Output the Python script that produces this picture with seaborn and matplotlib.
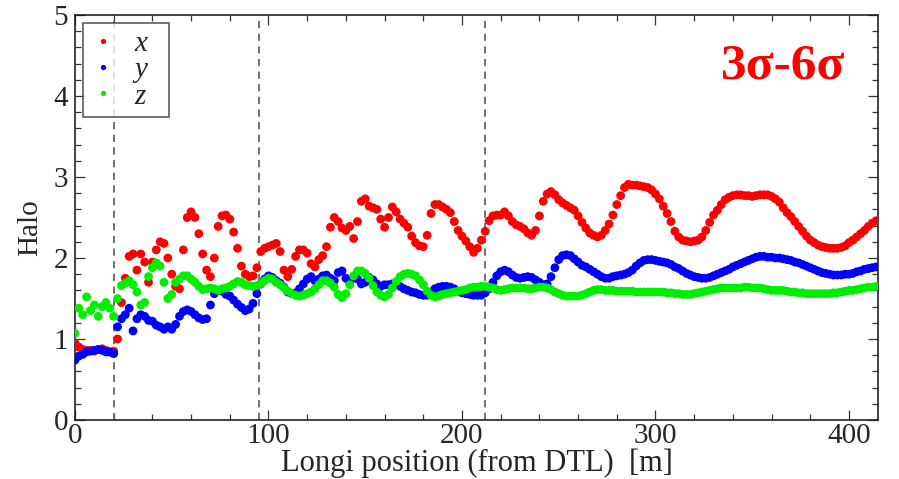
import numpy as np
import pandas as pd
import matplotlib
matplotlib.use("Agg")
import matplotlib.pyplot as plt
from matplotlib.ticker import MultipleLocator
import seaborn as sns

# Longitudinal positions [m] (sampled every 2 m)
positions = list(range(0, 416, 2))

halo_x = [0.95, 0.90, 0.87, 0.86, 0.86, 0.85, 0.87, 0.88, 0.86, 0.84,
          0.85, 1.00, 1.45, 1.75, 2.02, 2.05, 1.85, 2.05, 1.95, 1.70,
          1.95, 2.10, 2.20, 2.18, 2.00, 1.80, 1.65, 1.62, 2.10, 2.50,
          2.57, 2.50, 2.30, 2.05, 1.85, 1.77, 2.00, 2.39, 2.52, 2.53,
          2.48, 2.32, 2.12, 1.90, 1.80, 1.77, 1.78, 1.88, 2.08, 2.12,
          2.14, 2.16, 2.18, 2.08, 1.85, 1.77, 1.86, 2.02, 2.10, 2.10,
          2.06, 1.93, 1.89, 1.98, 2.03, 2.14, 2.38, 2.50, 2.45, 2.37,
          2.34, 2.39, 2.24, 2.45, 2.70, 2.73, 2.64, 2.62, 2.60, 2.48,
          2.38, 2.50, 2.63, 2.57, 2.48, 2.43, 2.38, 2.27, 2.19, 2.15,
          2.14, 2.28, 2.55, 2.66, 2.66, 2.63, 2.60, 2.56, 2.45, 2.34,
          2.27, 2.21, 2.14, 2.07, 2.12, 2.22, 2.33, 2.46, 2.52, 2.53,
          2.53, 2.57, 2.52, 2.45, 2.41, 2.39, 2.36, 2.31, 2.28, 2.34,
          2.52, 2.70, 2.79, 2.82, 2.78, 2.72, 2.68, 2.65, 2.62, 2.59,
          2.52, 2.44, 2.37, 2.31, 2.28, 2.26, 2.28, 2.34, 2.42, 2.53,
          2.66, 2.77, 2.87, 2.91, 2.90, 2.90, 2.89, 2.88, 2.87, 2.84,
          2.79, 2.73, 2.64, 2.55, 2.45, 2.33, 2.26, 2.22, 2.21, 2.20,
          2.21, 2.22, 2.26, 2.34, 2.44, 2.53, 2.59, 2.66, 2.72, 2.75,
          2.77, 2.78, 2.78, 2.77, 2.77, 2.76, 2.77, 2.78, 2.78, 2.78,
          2.76, 2.73, 2.69, 2.62, 2.56, 2.51, 2.45, 2.39, 2.33, 2.27,
          2.22, 2.19, 2.16, 2.14, 2.13, 2.12, 2.12, 2.12, 2.13, 2.15,
          2.19, 2.22, 2.26, 2.30, 2.34, 2.39, 2.43, 2.46]

halo_y = [0.74, 0.79, 0.81, 0.84, 0.85, 0.86, 0.87, 0.86, 0.84, 0.84,
          0.82, 1.15, 1.25, 1.30, 1.38, 1.10, 1.25, 1.30, 1.28, 1.23,
          1.22, 1.17, 1.15, 1.12, 1.15, 1.12, 1.18, 1.28, 1.34, 1.36,
          1.34, 1.30, 1.26, 1.24, 1.25, 1.42, 1.56, 1.60, 1.59, 1.55,
          1.53, 1.48, 1.43, 1.39, 1.35, 1.37, 1.44, 1.56, 1.68, 1.74,
          1.78, 1.76, 1.72, 1.69, 1.64, 1.58, 1.56, 1.57, 1.62, 1.68,
          1.74, 1.77, 1.72, 1.74, 1.78, 1.79, 1.75, 1.72, 1.82, 1.84,
          1.75, 1.70, 1.76, 1.74, 1.68, 1.70, 1.76, 1.73, 1.68, 1.65,
          1.67, 1.67, 1.68, 1.68, 1.65, 1.62, 1.60, 1.58, 1.57, 1.55,
          1.54, 1.54, 1.58, 1.62, 1.64, 1.65, 1.65, 1.64, 1.62, 1.59,
          1.57, 1.56, 1.55, 1.54, 1.54, 1.54, 1.57, 1.62, 1.70, 1.78,
          1.83, 1.85, 1.83, 1.79, 1.76, 1.75, 1.76, 1.77, 1.76, 1.73,
          1.70, 1.67, 1.68, 1.77, 1.88, 1.98, 2.03, 2.04, 2.03, 1.99,
          1.95, 1.91, 1.89, 1.86, 1.83, 1.80, 1.77, 1.75, 1.75, 1.77,
          1.78, 1.79, 1.80, 1.82, 1.85, 1.90, 1.94, 1.97, 1.98, 1.98,
          1.97, 1.96, 1.95, 1.94, 1.92, 1.89, 1.87, 1.84, 1.81, 1.79,
          1.77, 1.76, 1.75, 1.75, 1.76, 1.78, 1.80, 1.82, 1.84, 1.86,
          1.89, 1.91, 1.93, 1.95, 1.97, 1.99, 2.01, 2.02, 2.02, 2.01,
          2.01, 2.00, 2.00, 1.99, 1.98, 1.97, 1.95, 1.94, 1.92, 1.90,
          1.88, 1.86, 1.84, 1.82, 1.81, 1.80, 1.79, 1.79, 1.79, 1.80,
          1.80, 1.81, 1.83, 1.84, 1.86, 1.87, 1.88, 1.89]

halo_z = [1.07, 1.38, 1.30, 1.52, 1.35, 1.42, 1.28, 1.40, 1.45, 1.38,
          1.28, 1.50, 1.66, 1.69, 1.72, 1.67, 1.58, 1.42, 1.45, 1.77,
          1.88, 1.94, 1.90, 1.70, 1.50, 1.55, 1.70, 1.74, 1.78, 1.78,
          1.74, 1.70, 1.65, 1.61, 1.62, 1.63, 1.62, 1.60, 1.62, 1.63,
          1.65, 1.68, 1.71, 1.70, 1.67, 1.66, 1.65, 1.66, 1.68, 1.72,
          1.75, 1.74, 1.70, 1.67, 1.63, 1.59, 1.56, 1.54, 1.53, 1.54,
          1.56, 1.58, 1.62, 1.67, 1.72, 1.72, 1.69, 1.64, 1.55, 1.51,
          1.56, 1.67, 1.78, 1.84, 1.84, 1.81, 1.75, 1.66, 1.58, 1.54,
          1.52, 1.55, 1.63, 1.71, 1.77, 1.80, 1.81, 1.80, 1.78, 1.73,
          1.67, 1.59, 1.54, 1.52, 1.53, 1.55, 1.56, 1.57, 1.58, 1.59,
          1.60, 1.61, 1.63, 1.64, 1.64, 1.65, 1.65, 1.64, 1.63, 1.61,
          1.60, 1.61, 1.62, 1.63, 1.63, 1.63, 1.63, 1.62, 1.62, 1.63,
          1.64, 1.64, 1.63, 1.61, 1.58, 1.56, 1.54, 1.53, 1.53, 1.53,
          1.53, 1.54, 1.56, 1.58, 1.60, 1.61, 1.61, 1.60, 1.60, 1.60,
          1.59, 1.59, 1.59, 1.59, 1.59, 1.58, 1.58, 1.58, 1.58, 1.58,
          1.58, 1.58, 1.58, 1.57, 1.57, 1.56, 1.56, 1.55, 1.55, 1.55,
          1.56, 1.57, 1.58, 1.59, 1.60, 1.61, 1.62, 1.63, 1.63, 1.63,
          1.63, 1.63, 1.63, 1.64, 1.64, 1.63, 1.63, 1.63, 1.62, 1.61,
          1.60, 1.60, 1.60, 1.60, 1.59, 1.58, 1.58, 1.57, 1.57, 1.56,
          1.56, 1.56, 1.56, 1.56, 1.56, 1.56, 1.57, 1.57, 1.58, 1.59,
          1.60, 1.60, 1.61, 1.62, 1.63, 1.64, 1.64, 1.65]

series_names = ["x", "y", "z"]
series_colors = ["#ff0000", "#0000ff", "#00ee00"]
boundaries = [20, 95, 212]
x_ticks = [0, 100, 200, 300, 400]
y_ticks = [0, 1, 2, 3, 4, 5]

df = pd.DataFrame({
    "pos": positions * 3,
    "halo": halo_x + halo_y + halo_z,
    "plane": ["x"] * len(halo_x) + ["y"] * len(halo_y) + ["z"] * len(halo_z),
})

sns.set_style("ticks")
plt.rcParams["font.family"] = ["Liberation Serif", "DejaVu Serif"]

fig = plt.figure(figsize=(8.99, 4.79), dpi=100)
ax = fig.add_axes([75 / 899, 1 - 420 / 479, 803 / 899, 405 / 479])

for b in boundaries:
    ax.axvline(b, color="#666666", ls=(0, (4, 3)), lw=1.3, zorder=1)

sns.scatterplot(data=df, x="pos", y="halo", hue="plane",
                palette=dict(zip(series_names, series_colors)),
                s=40, linewidth=0, ax=ax, zorder=3, legend=True)

ax.set_xlim(0, 415)
ax.set_ylim(0, 5)
ax.set_xticks(x_ticks)
ax.set_yticks(y_ticks)
ax.xaxis.set_minor_locator(MultipleLocator(20))
ax.yaxis.set_minor_locator(MultipleLocator(0.2))
ax.tick_params(which="both", direction="in", top=True, right=True,
               color="#333333", width=0.9, labelsize=21)
ax.tick_params(axis="y", pad=5)
ax.tick_params(axis="x", pad=2)
ax.tick_params(which="major", length=7)
ax.tick_params(which="minor", length=4)
for sp in ax.spines.values():
    sp.set_color("#222222")
    sp.set_linewidth(1.2)

ax.set_xlabel("Longi position (from DTL)  [m]", fontsize=22)
ax.xaxis.label.set_va("baseline")
ax.xaxis.set_label_coords(0.5, (8 - 59) / 405)
ax.set_ylabel("Halo", fontsize=21)
ax.yaxis.set_label_coords(-0.040, 0.475)

handles, labels = ax.get_legend_handles_labels()
labels = [lab + "  " for lab in labels]
leg = ax.legend(handles, labels, loc="upper left", bbox_to_anchor=(0.01, 0.98),
                borderaxespad=0, frameon=True, fancybox=False,
                prop={"family": "Liberation Serif", "style": "italic", "size": 21},
                handletextpad=0.6, labelspacing=0.0, borderpad=0.25,
                handlelength=0.9, markerscale=0.6)
leg.get_frame().set_edgecolor("#333333")
leg.get_frame().set_linewidth(1.2)

ax.text(0.882, 0.872, "3σ-6σ", transform=ax.transAxes, ha="center", va="center",
        color="#ff0000", fontsize=37, fontweight="bold",
        family=["Liberation Serif", "DejaVu Serif"])

fig.savefig("out.png", dpi=100)
